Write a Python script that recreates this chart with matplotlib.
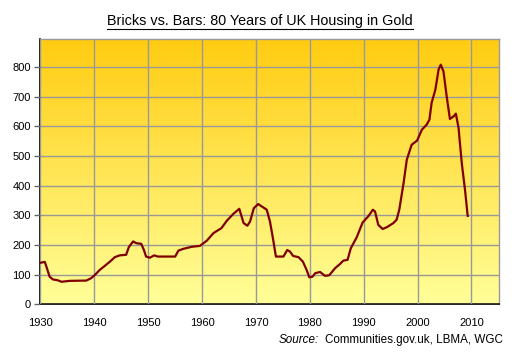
import numpy as np
import matplotlib
matplotlib.use("Agg")
import matplotlib.pyplot as plt
from matplotlib.colors import LinearSegmentedColormap
from matplotlib.lines import Line2D

# UK house price in ounces of gold
years = [1930.0, 1930.8, 1931.1, 1931.4, 1931.7, 1932.3, 1933.2, 1933.9, 1935.4, 1938.5,
         1939.4, 1940.1, 1941.0, 1941.9, 1942.9, 1943.8, 1944.7, 1945.9, 1946.4, 1947.2,
         1947.8, 1948.7, 1949.2, 1949.6, 1950.3, 1951.1, 1951.8, 1953.7, 1955.0, 1955.6,
         1956.5, 1958.1, 1959.6, 1960.9, 1962.1, 1963.6, 1964.6, 1965.8, 1966.9, 1967.7,
         1968.4, 1968.9, 1969.6, 1970.4, 1972.0, 1972.6, 1973.2, 1973.7, 1975.1, 1975.8,
         1976.3, 1976.9, 1977.9, 1978.7, 1979.4, 1979.9, 1980.5, 1981.0, 1981.9, 1982.8,
         1983.6, 1984.7, 1985.6, 1986.2, 1987.0, 1987.6, 1988.7, 1989.8, 1990.9, 1991.7,
         1992.1, 1992.7, 1993.5, 1994.3, 1995.5, 1996.1, 1996.6, 1997.4, 1998.0, 1998.9,
         1999.9, 2000.8, 2001.7, 2002.2, 2002.6, 2003.3, 2003.9, 2004.3, 2004.8, 2005.4,
         2006.0, 2006.7, 2007.1, 2007.6, 2008.2, 2008.8, 2009.3]
ounces = [140, 143, 127, 110, 93, 84, 81, 76, 79, 80,
          88, 99, 116, 129, 144, 159, 165, 167, 193, 212,
          206, 204, 183, 161, 157, 165, 161, 161, 161, 181,
          187, 194, 197, 215, 240, 257, 282, 305, 322, 274,
          265, 279, 324, 338, 319, 279, 217, 161, 161, 183,
          178, 163, 159, 144, 116, 91, 93, 105, 109, 96,
          98, 122, 136, 147, 150, 189, 226, 276, 298, 319,
          313, 268, 254, 260, 274, 285, 319, 409, 488, 538,
          552, 589, 606, 623, 679, 724, 792, 808, 786, 701,
          625, 634, 643, 595, 476, 386, 298]

x_ticks = [1930, 1940, 1950, 1960, 1970, 1980, 1990, 2000, 2010]
y_ticks = [0, 100, 200, 300, 400, 500, 600, 700, 800]

plt.rcParams['font.family'] = ['Liberation Sans', 'DejaVu Sans']

fig = plt.figure(figsize=(5.21, 3.58), dpi=100)
ax = fig.add_axes([0.0777, 0.15, 0.881, 0.7397])

x_min, x_max = 1930, 2015.2
y_min, y_max = 0, 893

# gold gradient background
grad = LinearSegmentedColormap.from_list("gold", ["#FFFF99", "#FFCC11"])
ax.imshow(np.linspace(0, 1, 256).reshape(-1, 1), cmap=grad, origin="lower",
          extent=[x_min, x_max, y_min, y_max], aspect="auto", zorder=0)

ax.plot(years, ounces, color="#800000", linewidth=1.6, zorder=3)

ax.set_xlim(x_min, x_max)
ax.set_ylim(y_min, y_max)
ax.set_xticks(x_ticks)
ax.set_yticks(y_ticks)
ax.grid(True, color="#999999", linewidth=1.0, zorder=1)
ax.set_axisbelow(False)
for line in ax.get_xgridlines() + ax.get_ygridlines():
    line.set_zorder(1)

ax.tick_params(axis="x", length=0, pad=10, labelsize=8)
ax.tick_params(axis="y", length=4, width=1, color="#666666", direction="out", pad=3, labelsize=8)

for s in ["left", "bottom"]:
    ax.spines[s].set_color("black")
    ax.spines[s].set_linewidth(1.2)
for s in ["top", "right"]:
    ax.spines[s].set_color("#999999")
    ax.spines[s].set_linewidth(1.0)

# title with underline
title = fig.text(260 / 521, 1 - 20.5 / 358, "Bricks vs. Bars: 80 Years of UK Housing in Gold",
                 ha="center", va="center", fontsize=10.4)

# source note: italic "Source:" then the rest
src = fig.text(503 / 521, 1 - 340 / 358, "Communities.gov.uk, LBMA, WGC",
               ha="right", va="center", fontsize=8.4)

fig.canvas.draw()
r = fig.canvas.get_renderer()
bb = title.get_window_extent(r)
fig.add_artist(Line2D([bb.x0 / 521, bb.x1 / 521], [(bb.y0 - 1.5) / 358, (bb.y0 - 1.5) / 358],
                      color="black", linewidth=0.8))
sb = src.get_window_extent(r)
fig.text((sb.x0 - 6) / 521, 1 - 340 / 358, "Source:", ha="right", va="center",
         fontsize=8.4, style="italic")

fig.savefig("out.png", dpi=100)
